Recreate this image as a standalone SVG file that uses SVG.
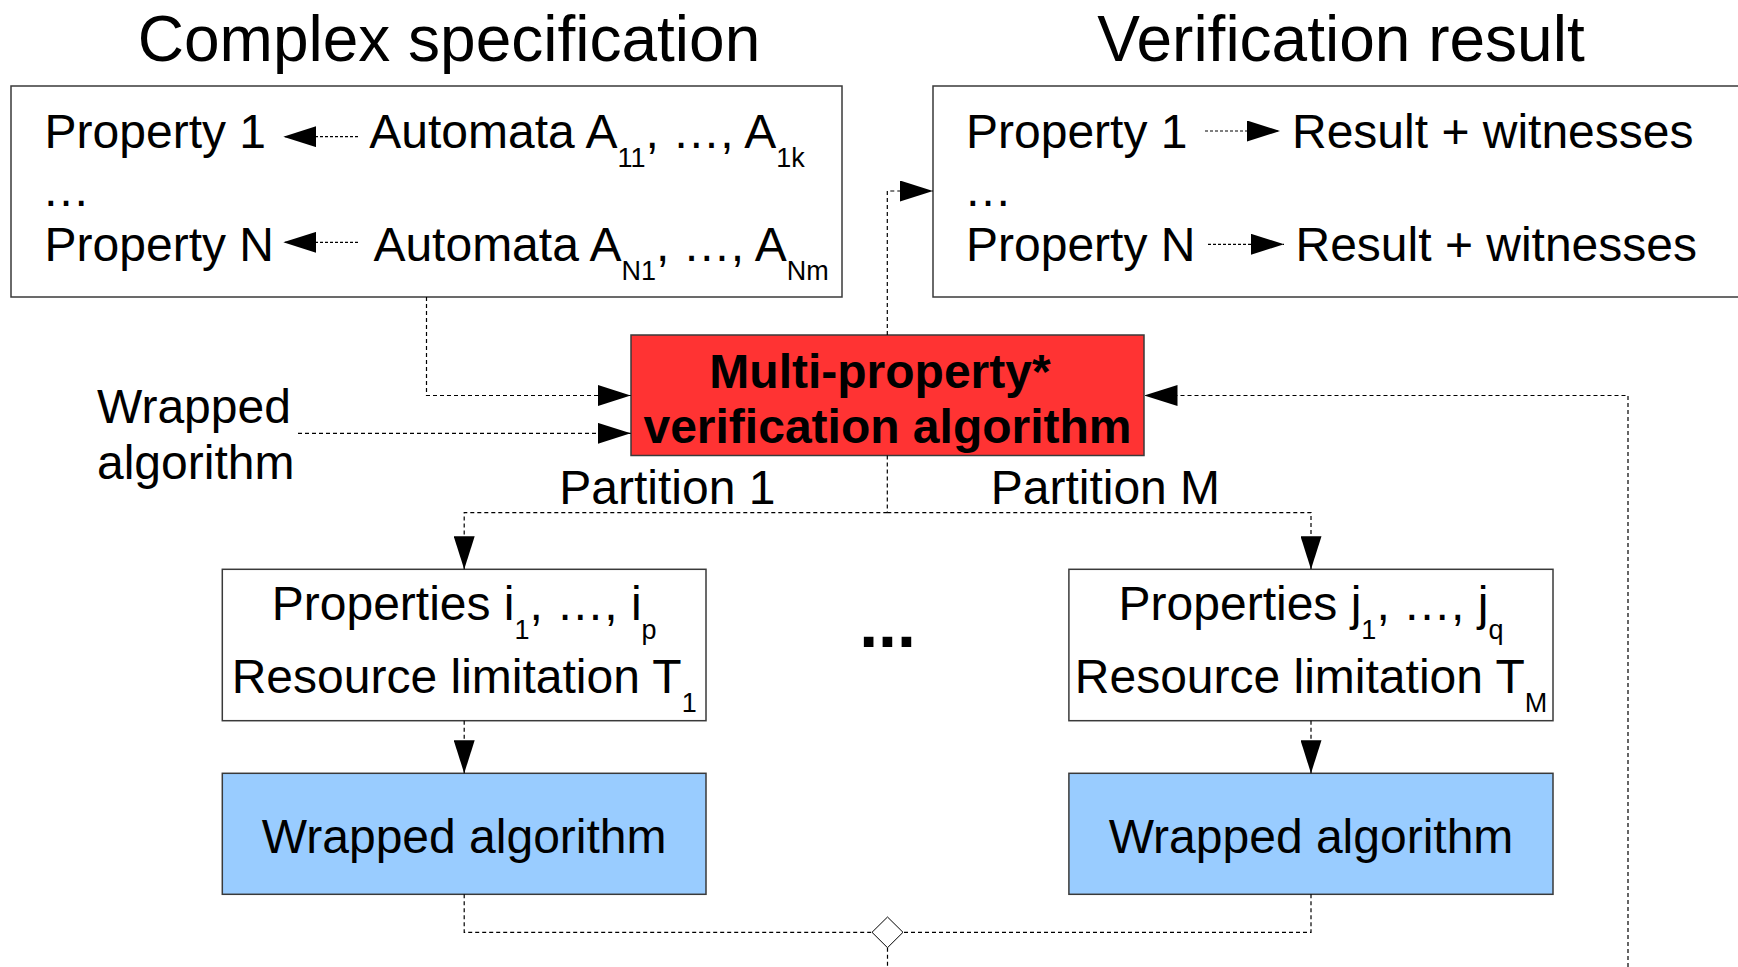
<svg xmlns="http://www.w3.org/2000/svg" width="1738" height="967" viewBox="0 0 1738 967">
  <defs>
    <style>
      text { font-family: "Liberation Sans", Arial, sans-serif; fill: #000; }
      .title { font-size: 64px; text-anchor: middle; }
      .body { font-size: 48px; }
      .mid { text-anchor: middle; }
      .sub { font-size: 27px; }
      .bold { font-weight: bold; }
      .box { fill: #fff; stroke: #3a3a3a; stroke-width: 1.5; }
      .core { fill: #ff3333; stroke: #3a3a3a; stroke-width: 1.5; }
      .wrapped { fill: #99ccff; stroke: #3a3a3a; stroke-width: 1.5; }
      .flow { fill: none; stroke: #000; stroke-width: 1.2; stroke-dasharray: 4 3; }
      .link { fill: none; stroke: #000; stroke-width: 1.2; stroke-dasharray: 3 2; }
      .arrow { marker-end: url(#head); }
    </style>
    <marker id="head" markerUnits="userSpaceOnUse" viewBox="0 0 33 21" markerWidth="33" markerHeight="21" refX="33" refY="10.5" orient="auto">
      <path d="M0,0 L33,10.5 L0,21 Z" fill="#000"/>
    </marker>
  </defs>

  <rect width="1738" height="967" fill="#fff"/>

  <!-- section titles -->
  <text class="title" x="449" y="61">Complex specification</text>
  <text class="title" x="1341" y="61">Verification result</text>

  <!-- specification: properties and their automata -->
  <g id="spec">
    <rect class="box" x="11" y="86" width="831" height="211"/>
    <text class="body" x="44.6" y="148">Property 1</text>
    <text class="body" x="42" y="206">…</text>
    <text class="body" x="44.6" y="261">Property N</text>
    <text class="body" x="369.3" y="148">Automata A<tspan class="sub" dy="19">11</tspan><tspan dy="-19">, …, A</tspan><tspan class="sub" dy="19">1k</tspan></text>
    <text class="body" x="373.4" y="261">Automata A<tspan class="sub" dy="19">N1</tspan><tspan dy="-19">, …, A</tspan><tspan class="sub" dy="19">Nm</tspan></text>
    <path class="link arrow" d="M358,136.7 H283.3"/>
    <path class="link arrow" d="M358,242.3 H283.3"/>
  </g>

  <!-- verification result per property -->
  <g id="result">
    <rect class="box" x="933" y="86" width="830" height="211"/>
    <text class="body" x="966" y="148">Property 1</text>
    <text class="body" x="964" y="206">…</text>
    <text class="body" x="966" y="261">Property N</text>
    <text class="body" x="1292" y="148">Result + witnesses</text>
    <text class="body" x="1295.5" y="261">Result + witnesses</text>
    <path class="link arrow" d="M1205,131 H1280"/>
    <path class="link arrow" d="M1208,244.3 H1284"/>
  </g>

  <!-- side input label -->
  <g id="wrapped-label">
    <text class="body" x="97" y="423">Wrapped</text>
    <text class="body" x="97" y="479">algorithm</text>
  </g>

  <!-- central algorithm -->
  <g id="multi-property">
    <rect class="core" x="631" y="335" width="513" height="120.5"/>
    <text class="body bold mid" x="880" y="388">Multi-property*</text>
    <text class="body bold mid" x="887.5" y="443">verification algorithm</text>
  </g>

  <!-- partition labels -->
  <text class="body" x="559.3" y="504">Partition 1</text>
  <text class="body" x="990.7" y="504">Partition M</text>

  <!-- partition 1 -->
  <g id="partition-1">
    <rect class="box" x="222.3" y="569.3" width="483.7" height="151.4"/>
    <text class="body mid" x="464.2" y="620">Properties i<tspan class="sub" dy="19">1</tspan><tspan dy="-19">, …, i</tspan><tspan class="sub" dy="19">p</tspan></text>
    <text class="body mid" x="464.2" y="693.3">Resource limitation T<tspan class="sub" dy="19">1</tspan></text>
  </g>
  <g id="wrapped-1">
    <rect class="wrapped" x="222.3" y="773.3" width="483.7" height="121"/>
    <text class="body mid" x="464.2" y="853.3">Wrapped algorithm</text>
  </g>

  <!-- elided partitions -->
  <text class="bold mid" x="887.5" y="647" style="font-size:68px">...</text>

  <!-- partition M -->
  <g id="partition-m">
    <rect class="box" x="1068.9" y="569.3" width="484.1" height="151.4"/>
    <text class="body mid" x="1311" y="620">Properties j<tspan class="sub" dy="19">1</tspan><tspan dy="-19">, …, j</tspan><tspan class="sub" dy="19">q</tspan></text>
    <text class="body mid" x="1311" y="693.3">Resource limitation T<tspan class="sub" dy="19">M</tspan></text>
  </g>
  <g id="wrapped-m">
    <rect class="wrapped" x="1068.9" y="773.3" width="484.1" height="121"/>
    <text class="body mid" x="1311" y="853.3">Wrapped algorithm</text>
  </g>

  <!-- merge point -->
  <g id="merge">
    <polygon points="887.5,917 903,932.3 887.5,947.7 872,932.3" fill="#fff" stroke="#000" stroke-width="1"/>
  </g>

  <g id="connectors">
    <!-- specification into algorithm -->
    <path class="flow arrow" d="M426.5,297 V395.5 H630.7"/>
    <!-- wrapped algorithm into algorithm -->
    <path class="flow arrow" d="M298,433.3 H630.7"/>
    <!-- algorithm to result -->
    <path class="flow arrow" d="M887.3,335 V191 H933"/>
    <!-- feedback from merged partial results -->
    <path class="flow arrow" d="M1628,967 V395.5 H1144.5"/>
    <!-- split into partitions -->
    <path class="flow" d="M887.3,455.5 V512.7"/>
    <path class="flow arrow" d="M887.3,512.7 H464.2 V569.3"/>
    <path class="flow arrow" d="M887.3,512.7 H1311 V569.3"/>
    <!-- partitions into wrapped algorithm runs -->
    <path class="flow arrow" d="M464.2,720.7 V773.3"/>
    <path class="flow arrow" d="M1311,720.7 V773.3"/>
    <!-- runs into merge point -->
    <path class="flow" d="M464.2,894.3 V932.3 H872"/>
    <path class="flow" d="M1311,894.3 V932.3 H903"/>
    <path class="flow" d="M887.5,947.7 V967"/>
  </g>
</svg>
